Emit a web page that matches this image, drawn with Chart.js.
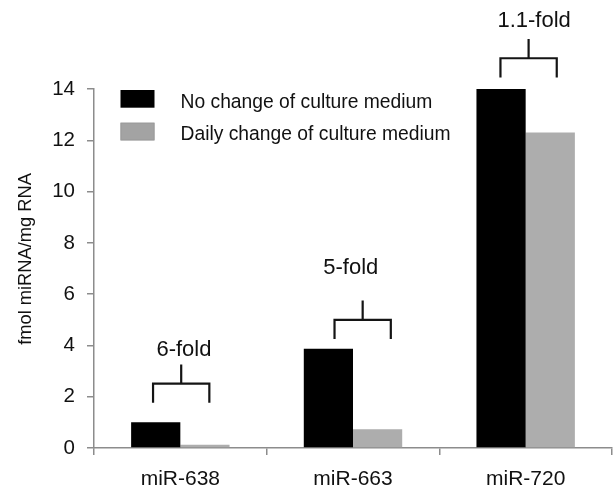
<!DOCTYPE html>
<html>
<head>
<meta charset="utf-8">
<script src="https://cdn.jsdelivr.net/npm/chart.js@4.4.0/dist/chart.umd.min.js"></script>
<style>
    html, body { margin: 0; padding: 0; background: #fff; }
    #wrap { width: 616px; height: 488px; }
</style>
</head>
<body>
<div id="wrap"><canvas id="mirnaChart" width="616" height="488"></canvas></div>
<script>
// values (fmol miRNA / mg RNA)
const categories = ['miR-638', 'miR-663', 'miR-720'];
const seriesLabels = ['No change of culture medium', 'Daily change of culture medium'];
const noChangeValues = [1.0, 3.87, 14.0];
const dailyChangeValues = [0.13, 0.73, 12.3];
const yTickValues = [0, 2, 4, 6, 8, 10, 12, 14];

// fold-change brackets: label, bottom of legs, text baseline (data units)
const foldLabels = ['6-fold', '5-fold', '1.1-fold'];
const bracketBase = [1.76, 4.25, 14.45];
const foldTextY = [3.57, 6.77, 16.4];
const bracketShift = [0.005, 0.056, 0.017];
const foldTextShift = [0.021, -0.013, 0.049];

const fontFamily = '"Liberation Sans", Arial, Helvetica, sans-serif';
const barColors = ['#000000', '#adadad'];
const axisColor = '#8c8c8c';

// brackets + fold labels
const foldBrackets = {
    id: 'foldBrackets',
    afterDatasetsDraw(chart) {
        const { ctx, scales: { x, y } } = chart;
        const catW = x.width / categories.length;
        const half = 0.163 * catW;
        ctx.save();
        ctx.strokeStyle = '#141414';
        ctx.lineWidth = 2.2;
        ctx.fillStyle = '#111';
        ctx.font = '22px ' + fontFamily;
        ctx.textAlign = 'center';
        ctx.textBaseline = 'alphabetic';
        categories.forEach(function(c, i) {
            const cx = x.getPixelForValue(i) + bracketShift[i] * catW;
            const yLeg = y.getPixelForValue(bracketBase[i]);
            const yBar = y.getPixelForValue(bracketBase[i] + 0.75);
            const yTop = y.getPixelForValue(bracketBase[i] + 1.5);
            ctx.beginPath();
            ctx.moveTo(cx - half, yLeg);
            ctx.lineTo(cx - half, yBar);
            ctx.lineTo(cx + half, yBar);
            ctx.lineTo(cx + half, yLeg);
            ctx.moveTo(cx, yBar);
            ctx.lineTo(cx, yTop);
            ctx.stroke();
            ctx.fillText(foldLabels[i], x.getPixelForValue(i) + foldTextShift[i] * catW, y.getPixelForValue(foldTextY[i]));
        });
        ctx.restore();
    }
};

// legend inside the plot + rotated y title
const insideLegend = {
    id: 'insideLegend',
    afterDraw(chart) {
        const { ctx, chartArea } = chart;
        ctx.save();
        ctx.font = '19.3px ' + fontFamily;
        ctx.textAlign = 'left';
        ctx.textBaseline = 'alphabetic';
        chart.data.datasets.forEach(function(ds, i) {
            const top = chartArea.top + 1 + i * 32.7;
            ctx.fillStyle = i === 0 ? ds.backgroundColor : '#a3a3a3';
            ctx.fillRect(chartArea.left + 26.5, top, 34, 17.7);
            if (i === 1) {
                ctx.strokeStyle = '#9a9a9a';
                ctx.lineWidth = 1;
                ctx.strokeRect(chartArea.left + 27, top + 0.5, 33, 16.7);
            }
            ctx.fillStyle = '#111';
            ctx.fillText(ds.label, chartArea.left + 86.5, top + 17.5);
        });

        ctx.translate(26, 259);
        ctx.rotate(-Math.PI / 2);
        ctx.textAlign = 'center';
        ctx.textBaseline = 'middle';
        ctx.font = '18.3px ' + fontFamily;
        ctx.fillText('fmol miRNA/mg RNA', 0, 0);
        ctx.restore();
    }
};

const ctx = document.getElementById('mirnaChart');
const mirnaChart = new Chart(ctx, {
    type: 'bar',
    data: {
        labels: categories,
        datasets: [{
            label: seriesLabels[0],
            data: noChangeValues,
            backgroundColor: barColors[0],
            borderWidth: 0
        }, {
            label: seriesLabels[1],
            data: dailyChangeValues,
            backgroundColor: barColors[1],
            borderWidth: 0
        }]
    },
    options: {
        responsive: false,
        animation: false,
        devicePixelRatio: 1,
        layout: {
            padding: { top: 89, right: 4, bottom: 0, left: 0 }
        },
        datasets: {
            bar: {
                categoryPercentage: 0.57,
                barPercentage: 1.0
            }
        },
        plugins: {
            legend: { display: false },
            tooltip: { enabled: false }
        },
        scales: {
            x: {
                grid: {
                    display: true,
                    drawOnChartArea: false,
                    offset: true,
                    tickLength: 7,
                    color: axisColor,
                    lineWidth: 1.5
                },
                border: { color: axisColor, width: 1.5 },
                ticks: {
                    color: '#111',
                    padding: 12,
                    font: { family: fontFamily, size: 21 }
                },
                afterFit: function(scale) { scale.height = 40; }
            },
            y: {
                min: 0,
                max: 14,
                afterBuildTicks: function(scale) {
                    scale.ticks = yTickValues.map(function(v) { return { value: v }; });
                },
                grid: {
                    display: true,
                    drawOnChartArea: false,
                    tickLength: 7,
                    color: axisColor,
                    lineWidth: 1.5
                },
                border: { color: axisColor, width: 1.5 },
                ticks: {
                    color: '#111',
                    padding: 12,
                    font: { family: fontFamily, size: 20.5 }
                },
                afterFit: function(scale) { scale.width = 94; }
            }
        }
    },
    plugins: [foldBrackets, insideLegend]
});
</script>
</body>
</html>
